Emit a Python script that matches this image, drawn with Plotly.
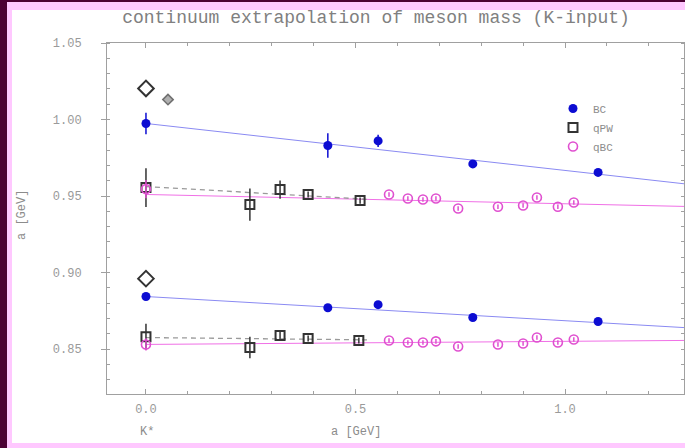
import plotly.graph_objects as go

# ---------------- data ----------------
# BC (blue filled circles): upper group then lower group
bc_x = [0.0, 0.434, 0.554, 0.780, 1.079, 0.0, 0.434, 0.554, 0.780, 1.079]
bc_y = [0.9974, 0.983, 0.986, 0.971, 0.9654, 0.8843, 0.877, 0.879, 0.8706, 0.868]
bc_err = [0.007, 0.008, 0.004, 0.0015, 0.0015, 0.002, 0.002, 0.002, 0.0015, 0.0015]

# qPW (black open squares)
qpw_x = [0.0, 0.248, 0.320, 0.387, 0.511, 0.0, 0.248, 0.320, 0.387, 0.508]
qpw_y = [0.9555, 0.9444, 0.9542, 0.951, 0.947, 0.858, 0.851, 0.8588, 0.8569, 0.8556]
qpw_err = [0.0127, 0.0105, 0.006, 0.002, 0.002, 0.0085, 0.007, 0.003, 0.002, 0.002]

# qBC (magenta open circles)
qbc_x = [0.0, 0.580, 0.625, 0.661, 0.692, 0.745, 0.840, 0.900, 0.933, 0.983, 1.021,
         0.0, 0.580, 0.625, 0.661, 0.692, 0.745, 0.840, 0.900, 0.933, 0.983, 1.021]
qbc_y = [0.9545, 0.951, 0.9484, 0.9477, 0.9484, 0.9418, 0.943, 0.9438, 0.949, 0.943, 0.9458,
         0.853, 0.8556, 0.8543, 0.8543, 0.855, 0.8516, 0.853, 0.8536, 0.8575, 0.8543, 0.8562]
qbc_err = [0.006, 0.0015, 0.0015, 0.0015, 0.0015, 0.0015, 0.0015, 0.0015, 0.0015, 0.0015, 0.0015,
           0.004, 0.0015, 0.0015, 0.0015, 0.0015, 0.0015, 0.0015, 0.0015, 0.0015, 0.0015, 0.0015]

# experimental reference values (open diamonds)
exp_x = [0.0, 0.0]
exp_y = [1.0203, 0.896]
exp2_x = [0.0525]
exp2_y = [1.013]

# continuum fit lines (None separates upper / lower group)
fit_bc_x = [0.0, 1.284, None, 0.0, 1.284]
fit_bc_y = [0.9974, 0.958, None, 0.8843, 0.864]
fit_qpw_x = [0.0, 0.53, None, 0.0, 0.53]
fit_qpw_y = [0.9562, 0.9478, None, 0.8575, 0.856]
fit_qbc_x = [0.0, 1.284, None, 0.0, 1.284]
fit_qbc_y = [0.951, 0.9432, None, 0.853, 0.8556]

x_ticks = [0.0, 0.5, 1.0]
x_ticklabels = ["0.0", "0.5", "1.0"]
y_ticks = [0.85, 0.90, 0.95, 1.00, 1.05]
y_ticklabels = ["0.85", "0.90", "0.95", "1.00", "1.05"]

title_text = "continuum extrapolation of meson mass (K-input)"
x_title = "a [GeV]"
y_title = "a [GeV]"
kstar_label = "K*"

# ---------------- style ----------------
W, H = 685, 448
ML, MR, MT, MB = 107, 1, 43, 54
PW, PH = W - ML - MR, H - MT - MB

def px(x):
    return (x - ML) / PW

def py(y):
    return 1 - (y - MT) / PH

BLUE = "#0c0cd2"
BLUE_LINE = "#8a8af2"
PINK = "#e050d0"
PINK_LINE = "#f070e6"
DARK = "#333333"
FONT = "Liberation Mono"

fig = go.Figure()

# fit lines
fig.add_trace(go.Scatter(x=fit_bc_x, y=fit_bc_y, mode="lines",
                         line=dict(color=BLUE_LINE, width=1), showlegend=False, hoverinfo="skip"))
fig.add_trace(go.Scatter(x=fit_qbc_x, y=fit_qbc_y, mode="lines",
                         line=dict(color=PINK_LINE, width=1), showlegend=False, hoverinfo="skip"))
fig.add_trace(go.Scatter(x=fit_qpw_x, y=fit_qpw_y, mode="lines",
                         line=dict(color="#9a9a9a", width=1.3, dash="5px,4px"), showlegend=False, hoverinfo="skip"))

# data
fig.add_trace(go.Scatter(x=bc_x, y=bc_y, mode="markers", name="BC",
                         error_y=dict(type="data", array=bc_err, color=BLUE, thickness=1.5, width=0),
                         marker=dict(symbol="circle", size=9, color=BLUE, line=dict(width=0))))
fig.add_trace(go.Scatter(x=qpw_x, y=qpw_y, mode="markers", name="qPW",
                         error_y=dict(type="data", array=qpw_err, color=DARK, thickness=1.5, width=0),
                         marker=dict(symbol="square-open", size=9, color=DARK, line=dict(width=2))))
fig.add_trace(go.Scatter(x=qbc_x, y=qbc_y, mode="markers", name="qBC",
                         error_y=dict(type="data", array=qbc_err, color=PINK, thickness=1.5, width=0),
                         marker=dict(symbol="circle-open", size=9, color=PINK, line=dict(width=1.6))))
fig.add_trace(go.Scatter(x=exp_x, y=exp_y, mode="markers", showlegend=False,
                         marker=dict(symbol="diamond-open", size=12, color=DARK, line=dict(width=2))))
fig.add_trace(go.Scatter(x=exp2_x, y=exp2_y, mode="markers", showlegend=False,
                         marker=dict(symbol="diamond", size=8, color="#b0b0b0",
                                     line=dict(width=1.5, color="#707070"))))

# frame decorations (paper coords)
shapes = [
    dict(type="rect", xref="paper", yref="paper", layer="below",
         x0=px(12), x1=px(W + 2), y0=py(443), y1=py(10), fillcolor="white", line=dict(width=0)),
    dict(type="rect", xref="paper", yref="paper", layer="below",
         x0=px(-2), x1=px(7), y0=py(H + 2), y1=py(-2), fillcolor="#4c0034", line=dict(width=0)),
    dict(type="rect", xref="paper", yref="paper", layer="below",
         x0=px(-2), x1=px(W + 2), y0=py(2), y1=py(-2), fillcolor="#4c0034", line=dict(width=0)),
]

axis_common = dict(showline=True, linecolor="#a0a0a0", linewidth=1, mirror="ticks",
                   showgrid=False, zeroline=False, tickcolor="#a0a0a0", automargin=False,
                   tickfont=dict(family=FONT, size=12, color="#9a9a9a"))

ann_font = dict(family=FONT, size=12, color="#8c8c8c")

fig.update_layout(
    width=W, height=H,
    margin=dict(l=ML, r=MR, t=MT, b=MB, autoexpand=False),
    paper_bgcolor="#ffc8ff",
    plot_bgcolor="white",
    shapes=shapes,
    title=dict(text=title_text, x=376 / W, xref="container", xanchor="center",
               y=1 - 17 / H, yref="container", yanchor="middle",
               font=dict(family=FONT, size=18, color="#808080")),
    xaxis=dict(range=[-0.093, 1.284], tickvals=x_ticks, ticktext=x_ticklabels,
               ticks="inside", ticklen=5, ticklabelstandoff=4,
               minor=dict(dtick=0.1, ticks="inside", ticklen=3, tickcolor="#a0a0a0"),
               **axis_common),
    yaxis=dict(range=[0.8206, 1.05], tickvals=y_ticks, ticktext=y_ticklabels,
               ticks="outside", ticklen=5, ticklabelstandoff=17,
               minor=dict(dtick=0.01, ticks="inside", ticklen=3, tickcolor="#a0a0a0"),
               **axis_common),
    legend=dict(x=px(553), y=py(94), xanchor="left", yanchor="top",
                bgcolor="rgba(0,0,0,0)", font=dict(family=FONT, size=11, color="#8c8c8c"),
                itemwidth=30),
    annotations=[
        dict(text=x_title, xref="paper", yref="paper", x=px(356), y=py(432),
             xanchor="center", yanchor="middle", showarrow=False, font=ann_font),
        dict(text=kstar_label, xref="paper", yref="paper", x=px(147), y=py(432),
             xanchor="center", yanchor="middle", showarrow=False, font=ann_font),
        dict(text=y_title, xref="paper", yref="paper", x=px(22), y=py(215), textangle=-90,
             xanchor="center", yanchor="middle", showarrow=False, font=ann_font),
    ],
)

fig.write_html("out.html", config={"displayModeBar": False},
               post_script="document.body.style.margin='0';document.body.style.overflow='hidden';")
